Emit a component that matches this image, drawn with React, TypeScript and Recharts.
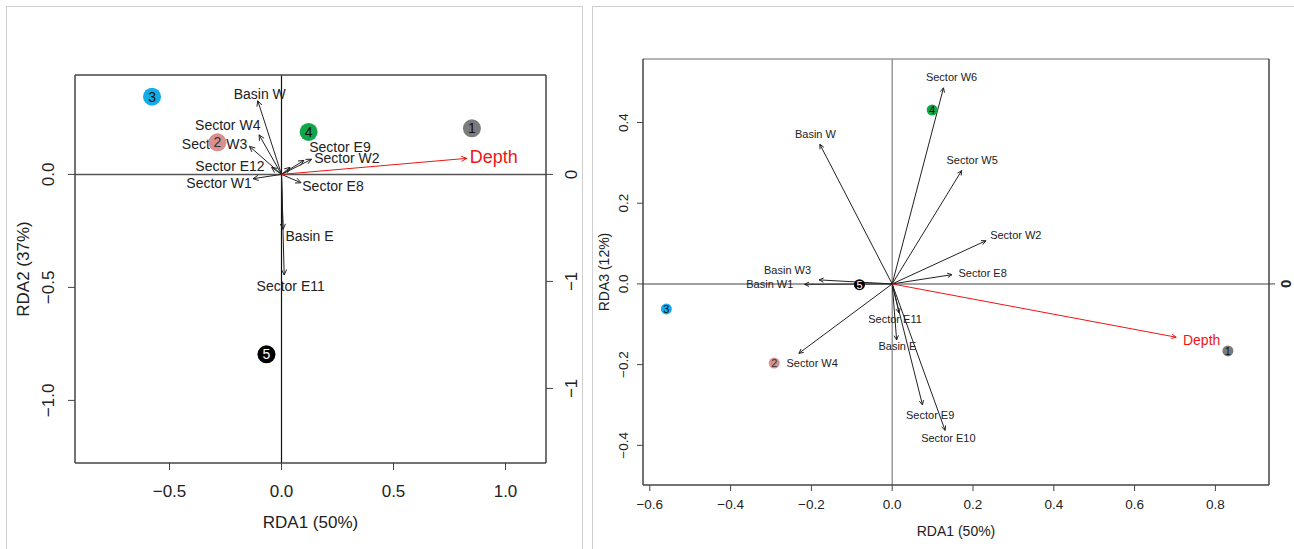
import React from 'react'
import { ScatterChart, Scatter, XAxis, YAxis, ReferenceLine, Label } from 'recharts'

const FONT = '"Liberation Sans", Arial, Helvetica, sans-serif'

// sites (same ids in both panels)
const siteIds = ['1', '2', '3', '4', '5']

// left panel: RDA1 x RDA2
const siteRda1A = [0.85, -0.286, -0.578, 0.121, -0.067]
const siteRda2A = [0.204, 0.142, 0.344, 0.188, -0.796]
const vecNamesA = ['Basin W', 'Sector W4', 'Sector W3', 'Sector E12', 'Sector W1', '', 'Sector E9', 'Sector W2', 'Sector E8', 'Basin E', 'Sector E11', 'Depth']
const vecRda1A = [-0.106, -0.1, -0.143, -0.044, -0.127, 0.038, 0.1, 0.134, 0.087, 0.007, 0.012, 0.827]
const vecRda2A = [0.326, 0.175, 0.124, 0.031, -0.019, 0.031, 0.062, 0.067, -0.037, -0.243, -0.445, 0.071]
const labRda1A = [-0.097, -0.24, -0.299, -0.23, -0.279, 0, 0.261, 0.292, 0.23, 0.125, 0.041, 0.948]
const labRda2A = [0.357, 0.219, 0.136, 0.037, -0.037, 0, 0.121, 0.071, -0.05, -0.271, -0.494, 0.079]
const xTicksA = [-0.5, 0, 0.5, 1]
const yTicksA = [0, -0.5, -1]
const topTicksA = [-1, 0, 1, 2]
const rightTicksA = [0, -1, -2]
const rightTickLabelsA = ['0', '\u22121', '\u22121']

// right panel: RDA1 x RDA3
const siteRda1B = [0.831, -0.292, -0.559, 0.099, -0.081]
const siteRda3B = [-0.166, -0.196, -0.062, 0.431, -0.002]
const vecNamesB = ['Sector W6', 'Basin W', 'Sector W5', 'Sector W2', 'Sector E8', 'Basin W3', 'Basin W1', 'Sector W4', 'Sector E11', 'Basin E', 'Sector E9', 'Sector E10', 'Depth']
const vecRda1B = [0.127, -0.179, 0.172, 0.232, 0.148, -0.181, -0.217, -0.231, 0.017, 0.011, 0.075, 0.131, 0.703]
const vecRda3B = [0.486, 0.346, 0.281, 0.107, 0.023, 0.01, -0.001, -0.172, -0.072, -0.139, -0.3, -0.363, -0.132]
const labRda1B = [0.147, -0.19, 0.198, 0.306, 0.224, -0.259, -0.303, -0.198, 0.007, 0.013, 0.094, 0.139, 0.766]
const labRda3B = [0.512, 0.372, 0.308, 0.121, 0.028, 0.034, -0.001, -0.196, -0.087, -0.153, -0.324, -0.382, -0.138]
const xTicksB = [-0.6, -0.4, -0.2, 0, 0.2, 0.4, 0.6, 0.8]
const yTicksB = [-0.4, -0.2, 0, 0.2, 0.4]
const topTicksB = [0, 0.8]
const rightTicksB = [0]
const rightTickLabelsB = ['0']

const siteFill = ['#7b7b7b', '#d8918f', '#12ade8', '#10a64a', '#000000']
const siteInk = ['#111', '#333', '#111', '#111', '#fff']
const RED = '#f01414'

const fmt = (v: number) => (v < 0 ? '\u2212' : '') + Math.abs(v).toFixed(1)

type Cfg = {
  width: number
  height: number
  margin: { top: number; right: number; bottom: number; left: number }
  xDomain: number[]
  yDomain: number[]
  topDomain: number[]
  rightDomain: number[]
  xTicks: number[]
  yTicks: number[]
  topTicks: number[]
  rightTicks: number[]
  rightLabels: string[]
  rightWidth: number
  tickSize: number
  tickFont: number
  rightFont: number
  rightBold: boolean
  bottomDy: number
  leftDx: number
  rightDx: number
  xTitle: string
  yTitle: string
  titleFont: number
  xTitleDy: number
  yTitleDx: number
  labelFont: number
  depthFont: number
  siteR: number
  siteFont: number
  zeroColor: [string, string]
  topColor: string
  sx: number[]
  sy: number[]
  names: string[]
  vx: number[]
  vy: number[]
  lx: number[]
  ly: number[]
  head: number
}

const arrow = (color: string, head: number) => (p: any) => {
  const { x1, y1, x2, y2 } = p
  const a = Math.atan2(y2 - y1, x2 - x1)
  const ax = x2 - head * Math.cos(a - Math.PI / 7)
  const ay = y2 - head * Math.sin(a - Math.PI / 7)
  const bx = x2 - head * Math.cos(a + Math.PI / 7)
  const by = y2 - head * Math.sin(a + Math.PI / 7)
  return (
    <g>
      <line x1={x1} y1={y1} x2={x2} y2={y2} stroke={color} strokeWidth={1} />
      <polyline points={`${ax},${ay} ${x2},${y2} ${bx},${by}`} fill="none" stroke={color} strokeWidth={1} />
    </g>
  )
}

const Biplot = ({ c }: { c: Cfg }) => {
  const sites = siteIds.map((id, i) => ({ x: c.sx[i], y: c.sy[i], id, i }))
  const labels = c.names
    .map((name, i) => ({ x: c.lx[i], y: c.ly[i], name }))
    .filter((d) => d.name !== '')
  const axisLine = { stroke: '#444', strokeWidth: 1.5 }
  const tickLine = { stroke: '#444' }

  const bottomTick = (p: any) => (
    <text x={p.x} y={p.y + c.bottomDy} textAnchor="middle" dominantBaseline="central" fontSize={c.tickFont} fontFamily={FONT} fill="#222">
      {fmt(p.payload.value)}
    </text>
  )
  const leftTick = (p: any) => {
    const x = p.x + c.leftDx
    return (
      <text x={x} y={p.y} transform={`rotate(-90 ${x} ${p.y})`} textAnchor="middle" dominantBaseline="central" fontSize={c.tickFont} fontFamily={FONT} fill="#222">
        {fmt(p.payload.value)}
      </text>
    )
  }
  const rightTick = (p: any) => {
    const x = p.x + c.rightDx
    return (
      <text x={x} y={p.y} transform={`rotate(-90 ${x} ${p.y})`} textAnchor="middle" dominantBaseline="central" fontSize={c.rightFont} fontWeight={c.rightBold ? 'bold' : 'normal'} fontFamily={FONT} fill="#222">
        {c.rightLabels[c.rightTicks.indexOf(p.payload.value)]}
      </text>
    )
  }

  const siteShape = (p: any) => {
    const i = p.payload.i
    return (
      <g>
        <circle cx={p.cx} cy={p.cy} r={c.siteR} fill={siteFill[i]} />
        <text x={p.cx} y={p.cy} textAnchor="middle" dominantBaseline="central" fontSize={c.siteFont} fontFamily={FONT} fill={siteInk[i]}>
          {p.payload.id}
        </text>
      </g>
    )
  }
  const labelShape = (p: any) => {
    const depth = p.payload.name === 'Depth'
    return (
      <text x={p.cx} y={p.cy} textAnchor="middle" dominantBaseline="central" fontSize={depth ? c.depthFont : c.labelFont} fontFamily={FONT} fill={depth ? RED : '#222'}>
        {p.payload.name}
      </text>
    )
  }

  return (
    <ScatterChart width={c.width} height={c.height} margin={c.margin}>
      <XAxis xAxisId="b" type="number" dataKey="x" domain={c.xDomain} ticks={c.xTicks} allowDataOverflow height={40}
        axisLine={axisLine} tickLine={tickLine} tickSize={c.tickSize} tick={bottomTick}>
        <Label content={(p: any) => {
          const vb = p.viewBox || {}
          return (
            <text x={vb.x + vb.width / 2} y={vb.y + c.xTitleDy} textAnchor="middle" dominantBaseline="central" fontSize={c.titleFont} fontFamily={FONT} fill="#222">
              {c.xTitle}
            </text>
          )
        }} />
      </XAxis>
      <XAxis xAxisId="t" orientation="top" type="number" domain={c.topDomain} ticks={c.topTicks} allowDataOverflow height={20}
        axisLine={{ stroke: c.topColor, strokeWidth: 1.5 }} tickLine={{ stroke: c.topColor, strokeWidth: 1.5 }} tickSize={c.tickSize} tick={false} />
      <YAxis yAxisId="l" type="number" dataKey="y" domain={c.yDomain} ticks={c.yTicks} allowDataOverflow width={40}
        axisLine={axisLine} tickLine={tickLine} tickSize={c.tickSize} tick={leftTick}>
        <Label content={(p: any) => {
          const vb = p.viewBox || {}
          const x = vb.x + vb.width + c.yTitleDx
          const y = vb.y + vb.height / 2
          return (
            <text x={x} y={y} transform={`rotate(-90 ${x} ${y})`} textAnchor="middle" dominantBaseline="central" fontSize={c.titleFont} fontFamily={FONT} fill="#222">
              {c.yTitle}
            </text>
          )
        }} />
      </YAxis>
      <YAxis yAxisId="r" orientation="right" type="number" domain={c.rightDomain} ticks={c.rightTicks} allowDataOverflow width={c.rightWidth}
        axisLine={axisLine} tickLine={tickLine} tickSize={c.tickSize} tick={rightTick} />

      <ReferenceLine xAxisId="b" yAxisId="l" y={0} stroke={c.zeroColor[0]} strokeWidth={1.5} />
      <ReferenceLine xAxisId="b" yAxisId="l" x={0} stroke={c.zeroColor[1]} strokeWidth={1.2} />

      {/* labels first, then site circles on top of them, arrows last */}
      <Scatter xAxisId="b" yAxisId="l" data={labels} shape={labelShape} isAnimationActive={false} />
      <Scatter xAxisId="b" yAxisId="l" data={sites} shape={siteShape} isAnimationActive={false} />

      {c.names.map((name, i) => (
        <ReferenceLine
          key={`v-${i}`}
          xAxisId="b"
          yAxisId="l"
          segment={[{ x: 0, y: 0 }, { x: c.vx[i], y: c.vy[i] }]}
          shape={arrow(name === 'Depth' ? RED : '#222', c.head)}
        />
      ))}
    </ScatterChart>
  )
}

const leftCfg: Cfg = {
  width: 590, height: 549,
  margin: { top: 55, right: 14, bottom: 46, left: 35 },
  xDomain: [-0.9219, 1.1808], yDomain: [-1.277, 0.4398],
  topDomain: [-1.9426, 2.488], rightDomain: [-2.697, 0.929],
  xTicks: xTicksA, yTicks: yTicksA, topTicks: topTicksA, rightTicks: rightTicksA, rightLabels: rightTickLabelsA,
  rightWidth: 30,
  tickSize: 7, tickFont: 17, rightFont: 17, rightBold: false,
  bottomDy: 19, leftDx: -17, rightDx: 17,
  xTitle: 'RDA1 (50%)', yTitle: 'RDA2 (37%)', titleFont: 17, xTitleDy: 59, yTitleDx: -51.5,
  labelFont: 14, depthFont: 18, siteR: 9, siteFont: 14,
  zeroColor: ['#555', '#111'], topColor: '#444',
  sx: siteRda1A, sy: siteRda2A, names: vecNamesA, vx: vecRda1A, vy: vecRda2A, lx: labRda1A, ly: labRda2A,
  head: 6,
}

const rightCfg: Cfg = {
  width: 704, height: 549,
  margin: { top: 39, right: 0, bottom: 24, left: 13 },
  xDomain: [-0.6168, 0.9327], yDomain: [-0.4983, 0.5574],
  topDomain: [-0.6168, 0.9327], rightDomain: [-0.4983, 0.5574],
  xTicks: xTicksB, yTicks: yTicksB, topTicks: topTicksB, rightTicks: rightTicksB, rightLabels: rightTickLabelsB,
  rightWidth: 25,
  tickSize: 6, tickFont: 13.5, rightFont: 15, rightBold: true,
  bottomDy: 11, leftDx: -11, rightDx: 9,
  xTitle: 'RDA1 (50%)', yTitle: 'RDA3 (12%)', titleFont: 14, xTitleDy: 45.5, yTitleDx: -39.5,
  labelFont: 11, depthFont: 14, siteR: 5.5, siteFont: 11,
  zeroColor: ['#808080', '#808080'], topColor: '#999',
  sx: siteRda1B, sy: siteRda3B, names: vecNamesB, vx: vecRda1B, vy: vecRda3B, lx: labRda1B, ly: labRda3B,
  head: 5,
}

export default function App() {
  return (
    <div style={{ position: 'absolute', left: 0, top: 0, width: 1294, height: 549, background: '#fff', overflow: 'hidden', fontFamily: FONT }}>
      <div style={{ position: 'absolute', left: 6, top: 6, width: 575, height: 600, border: '1px solid #cfcfcf' }} />
      <div style={{ position: 'absolute', left: 592, top: 6, width: 760, height: 600, border: '1px solid #cfcfcf' }} />
      <div style={{ position: 'absolute', left: 0, top: 0 }}>
        <Biplot c={leftCfg} />
      </div>
      <div style={{ position: 'absolute', left: 590, top: 0 }}>
        <Biplot c={rightCfg} />
      </div>
    </div>
  )
}
